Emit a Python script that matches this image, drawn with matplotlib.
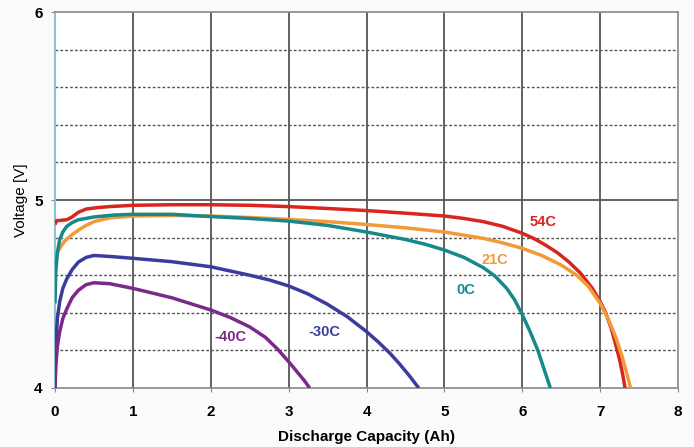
import matplotlib.pyplot as plt
import numpy as np

plt.rcParams['font.family'] = ['Liberation Sans', 'DejaVu Sans']

# discharge curves (capacity Ah, voltage V)
cap_54 = [0.0, 0.02, 0.15, 0.22, 0.3, 0.4, 0.55, 0.7, 1.0, 1.5, 2.0, 2.5, 3.0, 3.5, 4.0, 4.5, 5.0, 5.25, 5.5, 5.75, 6.0, 6.15, 6.3, 6.45, 6.6, 6.75, 6.9, 7.0, 7.07, 7.14, 7.2, 7.25, 7.29, 7.32]
v_54 = [4.87, 4.89, 4.895, 4.91, 4.935, 4.952, 4.96, 4.965, 4.972, 4.975, 4.975, 4.972, 4.965, 4.955, 4.944, 4.93, 4.915, 4.902, 4.885, 4.86, 4.823, 4.795, 4.76, 4.72, 4.67, 4.61, 4.53, 4.46, 4.40, 4.32, 4.23, 4.15, 4.07, 4.0]

cap_21 = [0.0, 0.03, 0.07, 0.12, 0.2, 0.3, 0.4, 0.5, 0.7, 1.0, 1.5, 2.0, 2.5, 3.0, 3.5, 4.0, 4.5, 5.0, 5.5, 5.75, 6.0, 6.25, 6.5, 6.7, 6.85, 7.0, 7.1, 7.2, 7.28, 7.34, 7.39]
v_21 = [4.68, 4.72, 4.75, 4.78, 4.81, 4.84, 4.865, 4.885, 4.905, 4.915, 4.918, 4.915, 4.907, 4.897, 4.885, 4.87, 4.852, 4.83, 4.796, 4.772, 4.743, 4.705, 4.654, 4.60, 4.54, 4.45, 4.37, 4.27, 4.17, 4.08, 4.0]

cap_0 = [0.0, 0.01, 0.03, 0.06, 0.1, 0.15, 0.22, 0.3, 0.5, 0.75, 1.0, 1.5, 2.0, 2.5, 3.0, 3.5, 4.0, 4.5, 4.75, 5.0, 5.25, 5.5, 5.65, 5.8, 5.9, 6.0, 6.1, 6.2, 6.28, 6.36]
v_0 = [4.45, 4.62, 4.72, 4.79, 4.83, 4.86, 4.88, 4.895, 4.91, 4.92, 4.924, 4.924, 4.912, 4.902, 4.888, 4.865, 4.83, 4.79, 4.765, 4.734, 4.695, 4.64, 4.595, 4.53, 4.47, 4.39, 4.30, 4.20, 4.10, 4.0]

cap_m30 = [0.0, 0.01, 0.03, 0.06, 0.1, 0.15, 0.22, 0.3, 0.4, 0.5, 0.7, 1.0, 1.5, 2.0, 2.5, 2.75, 3.0, 3.25, 3.5, 3.75, 4.0, 4.15, 4.3, 4.42, 4.55, 4.67]
v_m30 = [4.0, 4.22, 4.37, 4.46, 4.53, 4.58, 4.63, 4.67, 4.695, 4.705, 4.70, 4.69, 4.672, 4.645, 4.60, 4.575, 4.543, 4.50, 4.445, 4.38, 4.30, 4.245, 4.185, 4.13, 4.065, 4.0]

cap_m40 = [0.0, 0.01, 0.03, 0.06, 0.1, 0.15, 0.22, 0.3, 0.4, 0.5, 0.7, 1.0, 1.5, 2.0, 2.25, 2.5, 2.7, 2.85, 3.0, 3.1, 3.2, 3.27]
v_m40 = [4.0, 4.12, 4.22, 4.3, 4.37, 4.42, 4.48, 4.52, 4.55, 4.56, 4.555, 4.53, 4.48, 4.415, 4.375, 4.325, 4.27, 4.21, 4.14, 4.09, 4.04, 4.0]

series = [
    ('54C', cap_54, v_54, '#d8261e', 6.1, 4.885),
    ('21C', cap_21, v_21, '#f39a38', 5.48, 4.68),
    ('0C', cap_0, v_0, '#17898a', 5.15, 4.52),
    ('-30C', cap_m30, v_m30, '#3b3c9e', 3.25, 4.30),
    ('-40C', cap_m40, v_m40, '#7c2a89', 2.05, 4.27),
]

fig = plt.figure(figsize=(6.94, 4.47), dpi=100)
fig.patch.set_facecolor('#fbfbfb')
ax = fig.add_axes([0.0793, 0.132, 0.8977, 0.841])
ax.set_facecolor('white')

# grid
for xv in range(1, 8):
    ax.axvline(xv, color='#555555', lw=1.3, zorder=1)
for yv in [4.2, 4.4, 4.6, 4.8, 5.2, 5.4, 5.6, 5.8]:
    ax.axhline(yv, color='#555555', lw=1.0, ls=(0, (2, 1.5)), zorder=1)
ax.axhline(5.0, color='#555555', lw=1.3, zorder=1)

for name, x, y, c, lx, ly in series:
    ax.plot(x, y, color=c, lw=2.5, zorder=3, solid_capstyle='butt', solid_joinstyle='round')
    ax.text(lx, ly, name, color=c, fontsize=10.5, fontweight='bold', ha='left', va='center')

ax.set_xlim(0, 8)
ax.set_ylim(4, 6)
ax.set_xticks(range(0, 9))
ax.set_yticks([4, 5, 6])
ax.tick_params(axis='x', labelsize=11, length=3, pad=9, color='#888888')
ax.tick_params(axis='y', labelsize=11, length=3, pad=6, color='#888888')
for lab in ax.get_xticklabels() + ax.get_yticklabels():
    lab.set_fontweight('bold')

for s in ['top', 'right', 'bottom']:
    ax.spines[s].set_color('#888888')
    ax.spines[s].set_linewidth(1.2)
ax.spines['left'].set_color('#8fc3cc')
ax.spines['left'].set_linewidth(1.5)

ax.set_xlabel('Discharge Capacity (Ah)', fontsize=11, fontweight='bold', labelpad=8)
ax.set_ylabel('Voltage [V]', fontsize=11, labelpad=4)

fig.savefig('out.png', dpi=100, facecolor=fig.get_facecolor())
